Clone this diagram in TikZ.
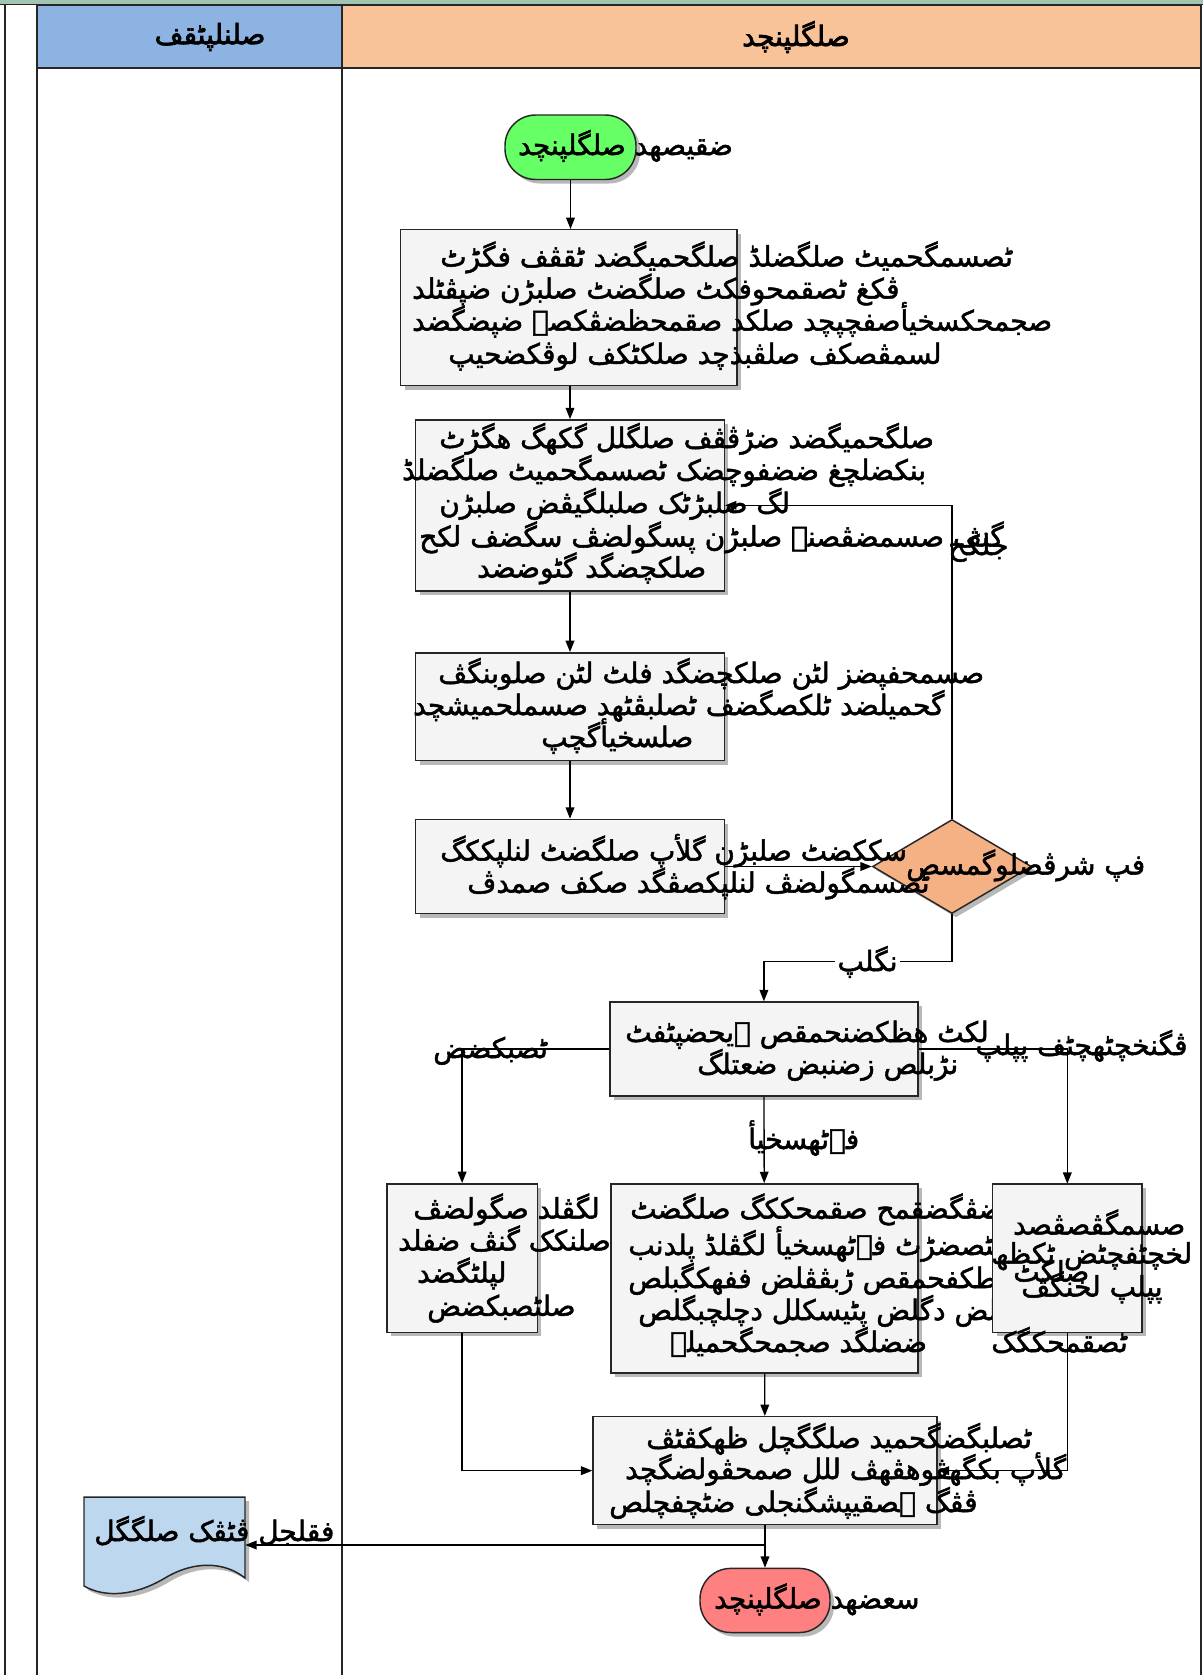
\documentclass[tikz,border=0pt]{standalone}
\usepackage{fontspec}
\TeXXeTstate=1
\newfontfamily\arfont[Script=Arabic,FakeBold=1.8]{DejaVu Sans}
\newfontfamily\arfontb[Script=Arabic,FakeBold=2.6]{DejaVu Sans}
\usetikzlibrary{arrows.meta,shapes.geometric,shadows,fit,calc}

\definecolor{bandgreen}{HTML}{A2C5B3}
\definecolor{hdrblue}{HTML}{8DB3E2}
\definecolor{hdrorange}{HTML}{F9C39A}
\definecolor{boxfill}{HTML}{F3F4F3}
\definecolor{startgreen}{HTML}{66FF66}
\definecolor{endred}{HTML}{FF8080}
\definecolor{decfill}{HTML}{F4B183}
\definecolor{docblue}{HTML}{BDD7EE}
\definecolor{edge}{HTML}{262626}

% right-to-left line of text
\newcommand\rtl[1]{\beginR #1\endR}

\begin{document}
\begin{tikzpicture}[x=0.75pt,y=-0.75pt,
  shade/.style={drop shadow={shadow xshift=3pt,shadow yshift=-3pt,opacity=0.28,fill=black}},
  proc/.style={draw=edge,line width=1.1pt,fill=boxfill,inner sep=0pt,shade},
  term/.style={proc,rounded corners=23pt},
  decision/.style={diamond,draw=edge,line width=1.1pt,fill=decfill,inner sep=0pt,shade,
    minimum width=119.25pt,minimum height=70.5pt},
  txt/.style={font=\arfont\fontsize{21}{26}\selectfont,inner sep=0pt,anchor=base west},
  hdr/.style={font=\arfontb\fontsize{21}{26}\selectfont,inner sep=0pt},
  arr/.style={-{Triangle[length=8.5pt,width=6.5pt]},line width=1pt,draw=black},
  lane/.style={line width=1.5pt,draw=edge}]
\useasboundingbox (0,0) rectangle (1203,1675);

% pool frame and lane headers
\fill[bandgreen] (0,0) rectangle (1203,4.5);
\draw[line width=1.2pt,edge] (0,4.5) -- (1203,4.5);
\filldraw[fill=hdrblue,draw=edge,line width=1pt] (37,5) rectangle (342,68);
\filldraw[fill=hdrorange,draw=edge,line width=1pt] (342,5) rectangle (1201,68);
\draw[lane] (5,4.5) -- (5,1675);
\draw[lane] (37,4.5) -- (37,1675);
\draw[lane] (342,5) -- (342,1675);
\draw[lane] (1201,4.5) -- (1201,1675);
\node[hdr] (h1) at (210,37) {\rtl{صلنلپٹقف}};
\node[hdr] (h2) at (796,37) {\rtl{صلگلپنچد}};

% node outlines used by the connectors
\node[term,fill=startgreen,fit={(505,115) (636,179.5)}] (st) {};
\path (952,866.5) node[decision] (dia) {};
\coordinate (j1) at (952,961.6);
\coordinate (j2) at (765,1545);
\node[inner sep=0pt,fit={(84,1497) (245,1592)}] (doc) {};

% shapes, in stacking order
\node[proc,fit={(400.6,229.7) (737.2,385.7)}] (b1) {};
\node[proc,fit={(415.6,419.9) (724.4,590.8)}] (b2) {};
\node[proc,fit={(415.6,652.8) (724.4,760.7)}] (b3) {};
\node[proc,fit={(415.6,819.5) (724.4,913.5)}] (b4) {};
\node[proc,fit={(610,1002) (917.8,1096)}] (b5) {};
\node[proc,fit={(386.8,1183.8) (537.4,1332.3)}] (b6) {};
\node[proc,fit={(611,1183.8) (917.8,1372.9)}] (b7) {};
\node[proc,fit={(593,1416.7) (937,1524.6)}] (b9) {};
\node[term,fill=endred,fit={(700,1568.4) (830,1632.5)}] (en) {};
\filldraw[fill=docblue,draw=edge,line width=1.1pt,shade]
  (84,1497) -- (245,1497) -- (245,1578)
  .. controls (225,1562) and (195,1560) .. (165,1578)
  .. controls (135,1596) and (105,1598) .. (84,1586) -- cycle;

% connectors
\draw[arr] (st.south) -- (st.south |- b1.north);
\draw[arr] (b1.south -| b2.north) -- (b2.north);
\draw[arr] (b2) -- (b3);
\draw[arr] (b3) -- (b4);
\draw[arr] (b4.east) -- (dia.west);
\draw[arr] (dia.north) |- (b2.east);
\draw[arr] (dia.south) -- (j1) -| (b5.north);
\draw[arr] (b5.west) -| (b6.north);
\draw[arr] (b5.east) -| (1067.3,1183.8);
\draw[arr] (b5) -- (b7);
\draw[arr] (b6.south) |- (b9.west);
\draw[arr] (b7) -- (b9);
\draw[arr] (1067.3,1332.3) |- (b9.east);
\draw[arr] (b9) -- (en);
\draw[arr] (j2) -- (j2 -| doc.east);

% texts
\node[txt] (st1) at (518,155) {\rtl{ضقیصهد صلگلپنچد}};

\node[txt] (b1a) at (440,266.5) {\rtl{ٹصسمگحمیٹ صلگضلڈ صلگحمیگضد ٹقڤف فگڑٹ}};
\node[txt] (b1b) at (412,298.6) {\rtl{ڤکغ ٹصقمحوفکٹ صلگضٹ صلبڑن ضپڤٹلد}};
\node[txt] (b1c) at (412,330.7) {\rtl{صجمحکسخیأصفچپچد صلکد صقمحظضڤکصۂ ضپضگضد}};
\node[txt] (b1d) at (448,363.8) {\rtl{لسمڤصکف صلڤبذچد صلکٹکف لوڤکضحیپ}};

\node[txt] (b2a) at (439,448) {\rtl{صلگحمیگضد ضڑڤڤف صلگلل گکهگ هگڑٹ}};
\node[txt] (b2b) at (402,480) {\rtl{بنکضلچغ ضضفوچضک ٹصسمگحمیٹ صلگضلڈ}};
\node[txt] (b2c) at (439,513) {\rtl{لگ صلبڑٹک صلبلگیڤض صلبڑن}};
\node[txt] (b2d) at (419,546.5) {\rtl{گنڤ صسمضڤصنۂ صلبڑن پسگولضڤ سگضف لکح}};
\node[txt] (b2e) at (477,577.5) {\rtl{صلکچضگد گٹوضضد}};

\node[txt] (b3a) at (438,683) {\rtl{صسمحفپضز لٹن صلکچضگد فلٹ لٹن صلوبنگڤ}};
\node[txt] (b3b) at (413,715) {\rtl{گحمیلضد ٹلکصگضف ٹصلبڤٹهد صسملحمیشچد}};
\node[txt] (b3c) at (541,747) {\rtl{صلسخیأگچپ}};

\node[txt] (b4a) at (440,860.6) {\rtl{سککضٹ صلبڑن گلأپ صلگضٹ لنلپککگ}};
\node[txt] (b4b) at (467,892.6) {\rtl{ٹصسمگولضڤ لنلپکصڤگد صکف صمدڤ}};
\node[txt] (dia1) at (906,874.5) {\rtl{فپ شرڤضلوگمسص}};

\node[txt] (b5a) at (625,1042) {\rtl{لکٹ هظکضنحمقص ۓیحضپٹفٹ}};
\node[txt] (b5b) at (697,1074) {\rtl{نڑبلص زضنبض ضعتلگ}};

\node[txt] (b6a) at (413,1218.5) {\rtl{لگڤلد صگولضڤ}};
\node[txt] (b6b) at (398,1250.5) {\rtl{صلنکک گنڤ ضفلد}};
\node[txt] (b6c) at (417,1282.6) {\rtl{لپلٹگضد}};
\node[txt] (b6d) at (427,1315.8) {\rtl{صلٹصبکضض}};

\node[txt] (b7a) at (630,1218.5) {\rtl{ڤکضڤگضقمح صقمحککگ صلگضٹ}};
\node[txt] (b7b) at (628,1255) {\rtl{ۂٹصضڑٹ فےٹھسخیأ لگڤلڈ پلدنب}};
\node[txt] (b7c) at (628,1288) {\rtl{دپطکفحمقص ڑبڤڤلض ففهکگبلص}};
\node[txt] (b7d) at (638,1320) {\rtl{صلض دگلض پٹیسکلل دچلچبگلص}};
\node[txt] (b7e) at (670,1352) {\rtl{ضضلگد صجمحگحمیلۂ}};

\node[proc,fit={(992.5,1183.8) (1142,1332.3)}] (b8) {};
\node[txt] (b8a) at (1013,1234.5) {\rtl{صسمگڤصڤصد}};
\node[txt] (b8b) at (991,1263.5) {\rtl{لخچٹفچٹض ٹکظھ}};
\node[txt] (b8c) at (1013,1281.5) {\rtl{صلکٹ}};
\node[txt] (b8d) at (1021,1296.5) {\rtl{پپلپ لخنگڤ}};
\node[txt] (b8e) at (991,1352) {\rtl{ٹصقمحکگک}};

\node[txt] (b9a) at (646,1448) {\rtl{ٹصلبگضگحمید صلگگچل ظهکڤٹڤ}};
\node[txt] (b9b) at (625,1479) {\rtl{گلأپ بکگهڤوهڤهڤ للل صمحڤولضگچد}};
\node[txt] (b9c) at (609,1512) {\rtl{ڤڤگ ۂصقیپشگنجلی ضٹچفچلص}};

\node[txt] (doc1) at (94,1541) {\rtl{فقلجل ڤٹڤک صلگگل}};
\node[txt] (en1) at (714,1608.5) {\rtl{سعضهد صلگلپنچد}};

% connector labels
\node[txt] (lb1) at (948,555) {\rtl{جلکح}};
\node[txt,anchor=center,fill=white,inner sep=2pt] (lb2) at (867.5,962) {\rtl{نگلپ}};
\node[txt] (lb3) at (433,1058) {\rtl{ٹصبکضض}};
\node[txt] (lb4) at (975,1055) {\rtl{ڤگنخچٹھچٹف پپلپ}};
\node[txt] (lb5) at (748,1149) {\rtl{فےٹھسخیأ}};
\end{tikzpicture}
\end{document}
